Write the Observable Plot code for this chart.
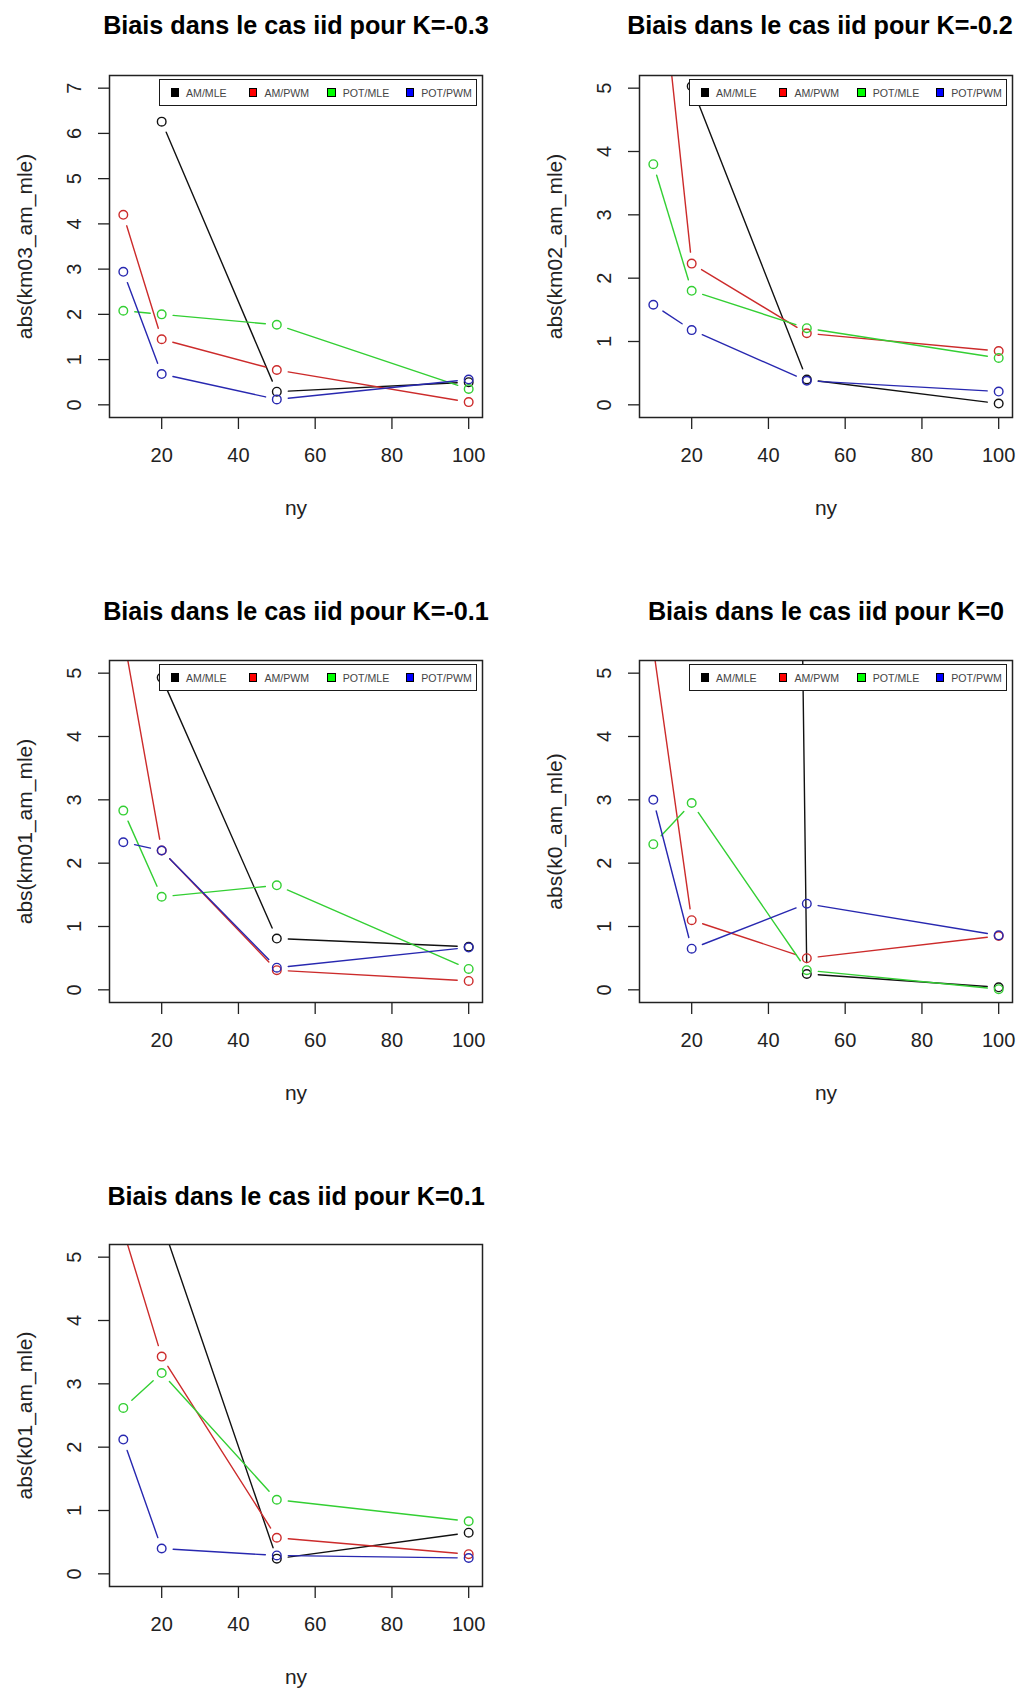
<!DOCTYPE html>
<html>
<head>
<meta charset="utf-8">
<script src="https://cdn.jsdelivr.net/npm/d3@7"></script>
<script src="https://cdn.jsdelivr.net/npm/@observablehq/plot@0.6"></script>
<style>
  html, body { margin: 0; padding: 0; background: #fff; }
  #page { position: relative; width: 1017px; height: 1688px; overflow: hidden; background: #fff;
          font-family: "Liberation Sans", Arial, sans-serif; }
  .panel { position: absolute; width: 508px; }
  .legend { position: absolute; background: #fff; border: 1.5px solid #1a1a1a; box-sizing: border-box;
            width: 318px; height: 27px; }
  .legend .sw { position: absolute; width: 8.5px; height: 8.5px; border: 1px solid #000; box-sizing: border-box; top: 8.3px; }
  .legend .lab { position: absolute; top: 6.5px; font-size: 10.6px; line-height: 12px; color: #444; white-space: nowrap; }
</style>
</head>
<body>
<div id="page"></div>
<script>
// ---------- data ----------
const ny = [10, 20, 50, 100];
const seriesNames = ["AM/MLE", "AM/PWM", "POT/MLE", "POT/PWM"];
const lineColors = ["#111111", "#cc2b2b", "#33cf33", "#2828b0"];
const legendColors = ["#000000", "#ff0000", "#00ff00", "#0000ff"];

const titles = [
  "Biais dans le cas iid pour K=-0.3",
  "Biais dans le cas iid pour K=-0.2",
  "Biais dans le cas iid pour K=-0.1",
  "Biais dans le cas iid pour K=0",
  "Biais dans le cas iid pour K=0.1"
];
const yLabels = ["abs(km03_am_mle)", "abs(km02_am_mle)", "abs(km01_am_mle)", "abs(k0_am_mle)", "abs(k01_am_mle)"];
const xLabel = "ny";
const xTicks = [20, 40, 60, 80, 100];
const yTicks7 = [0, 1, 2, 3, 4, 5, 6, 7];
const yTicks5 = [0, 1, 2, 3, 4, 5];
const yMax = [7, 5, 5, 5, 5];

// null = missing value (NA)
const km03_amMle  = [null, 6.26, 0.29, 0.50];
const km03_amPwm  = [4.20, 1.45, 0.77, 0.06];
const km03_potMle = [2.08, 2.00, 1.77, 0.35];
const km03_potPwm = [2.94, 0.68, 0.12, 0.56];

const km02_amMle  = [null, 5.03, 0.40, 0.02];
const km02_amPwm  = [7.95, 2.23, 1.13, 0.85];
const km02_potMle = [3.80, 1.80, 1.21, 0.74];
const km02_potPwm = [1.58, 1.18, 0.38, 0.21];

const km01_amMle  = [null, 4.93, 0.81, 0.68];
const km01_amPwm  = [5.60, 2.20, 0.31, 0.14];
const km01_potMle = [2.83, 1.47, 1.65, 0.33];
const km01_potPwm = [2.33, 2.20, 0.35, 0.67];

const k0_amMle  = [null, 140, 0.25, 0.04];
const k0_amPwm  = [5.40, 1.10, 0.50, 0.85];
const k0_potMle = [2.30, 2.95, 0.31, 0.01];
const k0_potPwm = [3.00, 0.65, 1.36, 0.86];

const k01_amMle  = [null, 5.55, 0.24, 0.65];
const k01_amPwm  = [5.42, 3.43, 0.57, 0.31];
const k01_potMle = [2.62, 3.17, 1.17, 0.83];
const k01_potPwm = [2.12, 0.40, 0.29, 0.25];

const panelSeries = [
  [km03_amMle, km03_amPwm, km03_potMle, km03_potPwm],
  [km02_amMle, km02_amPwm, km02_potMle, km02_potPwm],
  [km01_amMle, km01_amPwm, km01_potMle, km01_potPwm],
  [k0_amMle, k0_amPwm, k0_potMle, k0_potPwm],
  [k01_amMle, k01_amPwm, k01_potMle, k01_potPwm]
];

// ---------- layout ----------
const layout = [
  {left: 0,   top: 0,    frameTop: 75,   frameBottom: 417,  legend: true,  titleDy: -42, titleDx: 0},
  {left: 530, top: 0,    frameTop: 75,   frameBottom: 417,  legend: true,  titleDy: -42, titleDx: -6},
  {left: 0,   top: 585,  frameTop: 660,  frameBottom: 1002, legend: true,  titleDy: -41, titleDx: 0},
  {left: 530, top: 585,  frameTop: 660,  frameBottom: 1002, legend: true,  titleDy: -41, titleDx: 0},
  {left: 0,   top: 1170, frameTop: 1244, frameBottom: 1586, legend: false, titleDy: -40, titleDx: 0}
];
const W = 508, mLeft = 109, mRight = 26, mBottom = 102;
const GAP = 11.5;

const page = document.getElementById("page");

panelSeries.forEach((series, p) => {
  const L = layout[p];
  const height = L.frameBottom - L.top + mBottom;
  const ymax = yMax[p];
  const ext = ymax * 0.04;
  const marks = [];

  series.forEach((vals, s) => {
    const segs = [];
    for (let i = 0; i < ny.length - 1; i++) {
      if (vals[i] != null && vals[i + 1] != null) {
        segs.push({x1: ny[i], y1: vals[i], x2: ny[i + 1], y2: vals[i + 1]});
      }
    }
    const pts = ny.map((x, i) => ({x, y: vals[i]})).filter(d => d.y != null);
    marks.push(Plot.arrow(segs, {
      x1: "x1", y1: "y1", x2: "x2", y2: "y2",
      stroke: lineColors[s], strokeWidth: 1.4, headLength: 0,
      insetStart: GAP, insetEnd: GAP, clip: true
    }));
    marks.push(Plot.dot(pts, {
      x: "x", y: "y", r: 4.3, stroke: lineColors[s], fill: "none", strokeWidth: 1.4, clip: true
    }));
  });

  const chart = Plot.plot({
    width: W,
    height,
    marginLeft: mLeft,
    marginRight: mRight,
    marginTop: L.frameTop - L.top,
    marginBottom: mBottom,
    style: {fontFamily: "'Liberation Sans', Arial, sans-serif", color: "#222", background: "transparent", overflow: "visible", maxWidth: "none"},
    x: {domain: [10 - 3.6, 100 + 3.6]},
    y: {domain: [-ext, ymax + ext]},
    marks: [
      Plot.axisX({ticks: xTicks, tickSize: 12, tickPadding: 18, fontSize: 20, label: null, strokeWidth: 1.3, tickFormat: d => String(d), color: "#222"}),
      Plot.axisY({ticks: ymax === 7 ? yTicks7 : yTicks5, tickSize: 11, tickPadding: 18, tickRotate: -90, fontSize: 20, label: null, strokeWidth: 1.3, tickFormat: d => String(d), color: "#222"}),
      ...marks,
      Plot.frame({stroke: "#222", strokeWidth: 1.5}),
      Plot.text([titles[p]], {frameAnchor: "top", dx: L.titleDx, dy: L.titleDy, textAnchor: "middle", lineAnchor: "bottom", fontSize: 25.2, fontWeight: "bold", fill: "#000"}),
      Plot.text([yLabels[p]], {frameAnchor: "left", dx: -84, rotate: -90, textAnchor: "middle", lineAnchor: "middle", fontSize: 21, fill: "#222"}),
      Plot.text([xLabel], {frameAnchor: "bottom", dy: 91, textAnchor: "middle", lineAnchor: "middle", fontSize: 21, fill: "#222"})
    ]
  });

  const div = document.createElement("div");
  div.className = "panel";
  div.style.left = L.left + "px";
  div.style.top = L.top + "px";
  div.appendChild(chart);
  page.appendChild(div);

  if (L.legend) {
    const lg = document.createElement("div");
    lg.className = "legend";
    lg.style.left = (L.left + mLeft + 50) + "px";
    lg.style.top = (L.frameTop + 4) + "px";
    seriesNames.forEach((name, s) => {
      const sw = document.createElement("div");
      sw.className = "sw";
      sw.style.left = (10.5 + s * 78.4) + "px";
      sw.style.background = legendColors[s];
      const lab = document.createElement("div");
      lab.className = "lab";
      lab.style.left = (26 + s * 78.4) + "px";
      lab.textContent = name;
      lg.appendChild(sw);
      lg.appendChild(lab);
    });
    page.appendChild(lg);
  }
});
</script>
</body>
</html>
